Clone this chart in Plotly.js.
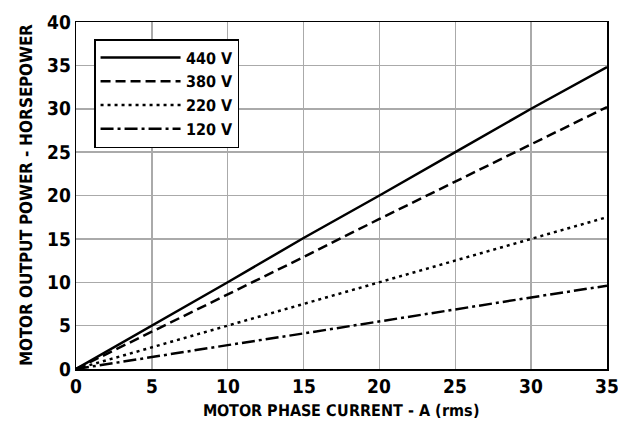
<!DOCTYPE html>
<html>
<head>
<meta charset="utf-8">
<script src="https://cdn.plot.ly/plotly-3.0.1.min.js"></script>
<style>
@font-face { font-family: "CondBold"; src: local("Liberation Sans Narrow Bold"), local("LiberationSansNarrow-Bold"), local("DejaVu Sans Condensed Bold"), local("DejaVuSansCondensed-Bold"); font-weight: 400 900; }
html,body{margin:0;padding:0;background:#fff;}#chart{width:618px;height:426px;}
</style>
</head>
<body>
<div id="chart"></div>
<script>
const current = [0, 5, 10, 15, 20, 25, 30, 35];
const seriesNames = ["440 V", "380 V", "220 V", "120 V"];
const power440 = [0, 5.0, 10.0, 15.1, 20.0, 25.0, 30.0, 34.8];
const power380 = [0, 4.3, 8.6, 12.9, 17.3, 21.6, 25.9, 30.2];
const power220 = [0, 2.5, 5.0, 7.5, 10.0, 12.5, 15.0, 17.5];
const power120 = [0, 1.4, 2.75, 4.1, 5.5, 6.85, 8.25, 9.6];
const xTicks = [0, 5, 10, 15, 20, 25, 30, 35];
const yTicks = [0, 5, 10, 15, 20, 25, 30, 35, 40];

const FONT = 'CondBold, "DejaVu Sans Condensed", sans-serif';
const dashes = ["solid", "10px,5px", "3px,4px", "13px,4px,3px,4px"];
const values = [power440, power380, power220, power120];

const traces = values.map((v, i) => ({
  x: current, y: v, name: seriesNames[i], mode: "lines", type: "scatter",
  line: {color: "#000", width: 2.5, dash: dashes[i]}, hoverinfo: "skip"
}));

const layout = {
  width: 618, height: 426,
  margin: {l: 76, r: 11, t: 22, b: 57},
  paper_bgcolor: "#fff", plot_bgcolor: "#fff",
  font: {family: FONT, color: "#000", size: 18, weight: "bold"},
  showlegend: true,
  legend: {
    x: 0.034, y: 0.951, xanchor: "left", yanchor: "top",
    bgcolor: "#fff", bordercolor: "#000", borderwidth: 1.5,
    font: {family: FONT, size: 16, color: "#000", weight: "bold"},
    tracegroupgap: 0, itemwidth: 80
  },
  xaxis: {
    range: [0, 35], tickvals: xTicks, ticktext: xTicks.map(String),
    showgrid: true, gridcolor: "#aaa", gridwidth: 1.5,
    showline: true, linecolor: "#000", linewidth: 1.5, mirror: true,
    zeroline: false, ticks: "", ticklen: 0, ticklabeloverflow: "allow",
    tickfont: {family: FONT, size: 19, weight: "bold"},
    title: {text: "MOTOR PHASE CURRENT - A (rms)", font: {family: FONT, size: 16, weight: "bold"}, standoff: 8}
  },
  yaxis: {
    range: [0, 40], tickvals: yTicks, ticktext: yTicks.map(String),
    showgrid: true, gridcolor: "#aaa", gridwidth: 1.5,
    showline: true, linecolor: "#000", linewidth: 1.5, mirror: true,
    zeroline: false, ticks: "", ticklen: 0, ticklabeloverflow: "allow",
    tickfont: {family: FONT, size: 19, weight: "bold"},
    title: {text: "MOTOR OUTPUT POWER - HORSEPOWER", font: {family: FONT, size: 17, weight: "bold"}, standoff: 10}
  }
};

Plotly.newPlot("chart", traces, layout, {staticPlot: true, displayModeBar: false});
</script>
</body>
</html>
